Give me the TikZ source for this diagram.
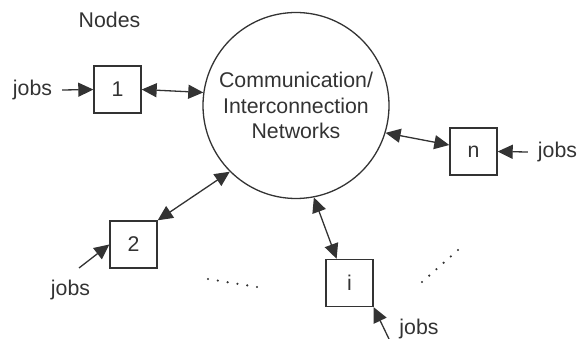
\documentclass[tikz,border=0pt]{standalone}
\usepackage{fontspec}
\setmainfont{Liberation Sans}
\usetikzlibrary{arrows.meta,calc}
\definecolor{ink}{HTML}{333333}
\begin{document}
\begin{tikzpicture}[x=1pt,y=-1pt,
  every node/.style={text=ink,font=\fontsize{21.3}{25.5}\selectfont},
  nodebox/.style={draw=ink,line width=1.4pt,minimum width=47pt,minimum height=47pt,inner sep=0pt},
  lbl/.style={inner sep=0pt},
  conn/.style={draw=ink,line width=1.3pt},
  tip/.style={-{Triangle[length=15pt,width=14pt]}},
  bitip/.style={{Triangle[length=15pt,width=14pt]}-{Triangle[length=15pt,width=14pt]}}]
\useasboundingbox (0,0) rectangle (578,339);
\node[draw=ink,line width=1.3pt,circle,minimum size=186pt,inner sep=0pt,align=center] (net) at (296,105.5)
  {Communication/\\Interconnection\\Networks};
\node[lbl] (nodes) at (109.5,20) {Nodes};
\node[nodebox] (b1) at (117.5,89.5) {1};
\node[nodebox] (bn) at (473.5,151.5) {n};
\node[nodebox] (bi) at (349.5,283) {i};
\node[nodebox] (b2) at (133.5,244.5) {2};
\node[lbl] (j1) at (32.5,90) {jobs};
\node[lbl] (jn) at (557.5,152) {jobs};
\node[lbl] (j2) at (70.5,290) {jobs};
\node[lbl] (ji) at (419,329) {jobs};
\coordinate (c2) at (79,268);
\coordinate (ci) at (389,339);
% connectors
\draw[conn,tip] ([xshift=10pt]j1.east) -- (b1.west);
\draw[conn,tip] ([xshift=-10pt]jn.west) -- (bn.east);
\draw[conn,tip] (c2) -- (b2.west);
\draw[conn,tip] (ci) -- (bi.south east);
\draw[conn,bitip] (b1.east) -- (net.172);
\draw[conn,bitip] (net.343) -- (bn.165);
\draw[conn,bitip] (net.281) -- (bi.118);
\draw[conn,bitip] (b2.north east) -- (net.225);
% dots
\coordinate (da) at (208,279);
\coordinate (db) at (257,287);
\coordinate (dc) at (422,282);
\coordinate (dd) at (458,250);
\foreach \t in {0,0.2,0.4,0.6,0.8,1}{
  \fill[ink] ($(da)!\t!(db)$) circle (1.2pt);
  \fill[ink] ($(dc)!\t!(dd)$) circle (1.2pt);
}
\end{tikzpicture}
\end{document}
